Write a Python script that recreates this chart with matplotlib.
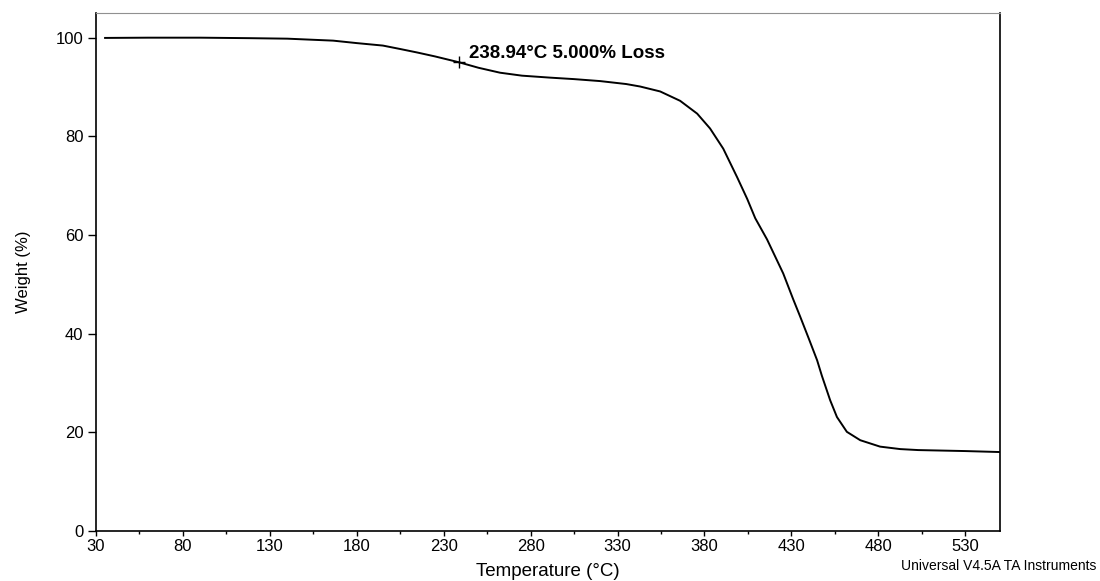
import numpy as np
import matplotlib
matplotlib.use('Agg')
import matplotlib.pyplot as plt

plt.rcParams['font.family'] = ['Liberation Sans', 'DejaVu Sans']

# TGA curve
temp = [35.2, 60, 90, 118.6, 140, 166.4, 180, 195, 205, 214.7, 225, 238.94, 250,
        262.4, 275, 291.2, 305, 320, 335, 343, 354.5, 366, 375.8, 383.2, 390.8,
        398.8, 404.6, 409.2, 416, 425.3, 431, 435, 440, 444.8, 447.5, 452.3,
        456.2, 461.9, 469.6, 481, 492.6, 503, 530, 550]
weight = [99.95, 100.0, 100.0, 99.9, 99.8, 99.4, 98.9, 98.4, 97.7, 97.0, 96.2, 95.0, 93.9,
          92.9, 92.3, 91.9, 91.6, 91.2, 90.6, 90.1, 89.1, 87.2, 84.6, 81.6, 77.5,
          71.7, 67.3, 63.4, 59.1, 52.2, 47.0, 43.5, 39.0, 34.6, 31.5, 26.5,
          23.1, 20.1, 18.4, 17.1, 16.6, 16.4, 16.2, 16.0]

mark_t = 238.94
mark_w = 95.0
mark_label = '238.94°C 5.000% Loss'

fig = plt.figure(figsize=(11, 5.81), dpi=100)
ax = fig.add_axes([0.0873, 0.0861, 0.8218, 0.8915])

ax.plot(temp, weight, color='black', lw=1.4, solid_joinstyle='round')
ax.plot([mark_t], [mark_w], marker='+', color='black', ms=9, mew=1.0)
ax.annotate(mark_label, xy=(mark_t, mark_w), xytext=(7, 3), textcoords='offset points',
            fontsize=13.5, fontweight='bold', va='baseline', ha='left')

ax.set_xlim(30, 550)
ax.set_ylim(0, 105)
ax.set_xticks(np.arange(30, 531, 50))
ax.set_xticks(np.arange(55, 531, 50), minor=True)
ax.set_yticks(np.arange(0, 101, 20))
ax.tick_params(axis='both', which='major', direction='out', width=1,
               labelsize=12)
ax.tick_params(axis='x', which='major', length=3.5, pad=2)
ax.tick_params(axis='y', which='major', length=6, pad=3)
ax.tick_params(axis='x', which='minor', direction='out', length=2.5, width=1)
ax.spines['top'].set_color('#909090')
for s in ['left', 'bottom', 'right']:
    ax.spines[s].set_linewidth(1.2)

ax.set_xlabel('Temperature (°C)', fontsize=13.5, labelpad=7)
ax.set_ylabel('Weight (%)', fontsize=12, labelpad=18)

fig.text(0.997, 0.013, 'Universal V4.5A TA Instruments', fontsize=10,
         ha='right', va='bottom')

fig.savefig('out.png', dpi=100)
